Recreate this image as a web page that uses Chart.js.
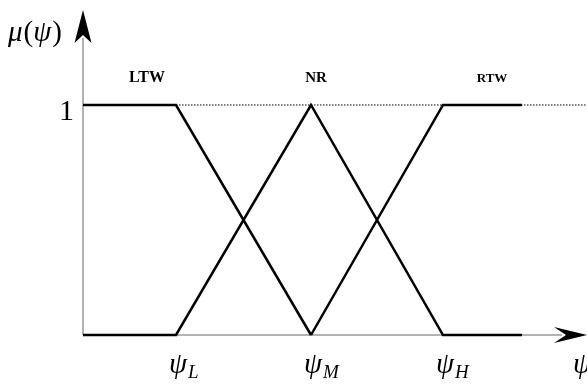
<!DOCTYPE html>
<html>
<head>
<meta charset="utf-8">
<script src="https://cdn.jsdelivr.net/npm/chart.js@4"></script>
<style>
  html, body { margin: 0; padding: 0; background: #fff; }
  #wrap { width: 587px; height: 387px; }
</style>
</head>
<body>
<div id="wrap"><canvas id="fuzzy"></canvas></div>
<script>
// --- membership functions (x in units of 100px from the origin) ---
const psiNames = ['L', 'M', 'H'];
const psiX = [0.93, 2.28, 3.60];
const xEnd = 4.39;

const ltwX = [0, 0.93, 2.28];
const ltwY = [1, 1, 0];
const nrX = [0, 0.93, 2.28, 3.60, 4.39];
const nrY = [0, 0, 1, 0, 0];
const rtwX = [2.28, 3.60, 4.39];
const rtwY = [0, 1, 1];

const setNames = ['LTW', 'NR', 'RTW'];
const setNameX = [0.64, 2.33, 4.09];
const setNameSize = [16, 15, 13];
const setNameY = 1.12;

const xMax = 5.04;
const yMax = 1.413;

const pts = (xs, ys) => xs.map((x, i) => ({ x: x, y: ys[i] }));

const SERIF = '"Liberation Serif", "DejaVu Serif", serif';

// draw a run of [text, italic, size, dy, gap] pieces left to right
function drawRun(ctx, parts, x, y) {
  parts.forEach(p => {
    ctx.font = (p[1] ? 'italic ' : '') + p[2] + 'px ' + SERIF;
    ctx.fillText(p[0], x, y + (p[3] || 0));
    x += ctx.measureText(p[0]).width + (p[4] || 0);
  });
}

const axesPlugin = {
  id: 'axesArrows',
  beforeDatasetsDraw(chart) {
    const { ctx, scales: { x, y } } = chart;
    const x0 = x.getPixelForValue(0), y0 = y.getPixelForValue(0);
    const xTip = x.getPixelForValue(xMax), yTip = y.getPixelForValue(yMax);
    ctx.save();
    ctx.strokeStyle = '#666';
    ctx.lineWidth = 1;
    ctx.beginPath();
    ctx.moveTo(x0, y0);
    ctx.lineTo(xTip - 25, y0);
    ctx.moveTo(x0, y0);
    ctx.lineTo(x0, yTip + 28);
    ctx.stroke();

    // arrow heads
    ctx.fillStyle = '#000';
    ctx.beginPath();
    ctx.moveTo(xTip, y0);
    ctx.lineTo(xTip - 33, y0 - 8);
    ctx.lineTo(xTip - 21, y0);
    ctx.lineTo(xTip - 33, y0 + 8);
    ctx.closePath();
    ctx.fill();
    ctx.beginPath();
    ctx.moveTo(x0, yTip);
    ctx.lineTo(x0 - 8.5, yTip + 33);
    ctx.lineTo(x0, yTip + 25);
    ctx.lineTo(x0 + 8.5, yTip + 33);
    ctx.closePath();
    ctx.fill();
    ctx.restore();
  },
  afterDraw(chart) {
    const { ctx, scales: { x, y } } = chart;
    const x0 = x.getPixelForValue(0), y0 = y.getPixelForValue(0);
    ctx.save();
    ctx.fillStyle = '#000';
    ctx.textBaseline = 'alphabetic';

    // set names
    ctx.textAlign = 'center';
    setNames.forEach((n, i) => {
      ctx.font = 'bold ' + setNameSize[i] + 'px ' + SERIF;
      ctx.fillText(n, x.getPixelForValue(setNameX[i]), y.getPixelForValue(setNameY) + 5);
    });

    // value 1 on the y axis
    ctx.font = '30px ' + SERIF;
    ctx.textAlign = 'right';
    ctx.fillText('1', x0 - 9, y.getPixelForValue(1) + 15);

    // axis title
    ctx.textAlign = 'left';
    drawRun(ctx, [['\u03bc', true, 29, 0, 1], ['(', false, 29], ['\u03c8', true, 29, 0, 1], [')', false, 29]], 8, 41);

    // psi ticks
    psiNames.forEach((n, i) => {
      drawRun(ctx, [['\u03c8', true, 29, 0, 1], [n, true, 19, 5]], x.getPixelForValue(psiX[i]) - 7, y0 + 38);
    });
    drawRun(ctx, [['\u03c8', true, 29]], x.getPixelForValue(xMax) - 14, y0 + 38);
    ctx.restore();
  }
};

const solid = { borderColor: '#000', borderWidth: 2.5, pointRadius: 0, showLine: true, fill: false, tension: 0, clip: false, borderCapStyle: 'butt', borderJoinStyle: 'miter' };

new Chart(document.getElementById('fuzzy'), {
  type: 'scatter',
  data: {
    datasets: [
      { label: 'one', data: pts([psiX[0], xMax], [1, 1]), borderColor: '#000', borderWidth: 1, borderDash: [1.5, 1.5], pointRadius: 0, showLine: true, clip: false },
      Object.assign({ label: setNames[0], data: pts(ltwX, ltwY) }, solid),
      Object.assign({ label: setNames[1], data: pts(nrX, nrY) }, solid),
      Object.assign({ label: setNames[2], data: pts(rtwX, rtwY) }, solid)
    ]
  },
  options: {
    responsive: true,
    maintainAspectRatio: false,
    animation: false,
    events: [],
    layout: { padding: { left: 83, right: 0, top: 10, bottom: 52 } },
    plugins: { legend: { display: false }, tooltip: { enabled: false } },
    scales: {
      x: { type: 'linear', min: 0, max: xMax, display: false },
      y: { type: 'linear', min: 0, max: yMax, display: false }
    }
  },
  plugins: [axesPlugin]
});
</script>
</body>
</html>
